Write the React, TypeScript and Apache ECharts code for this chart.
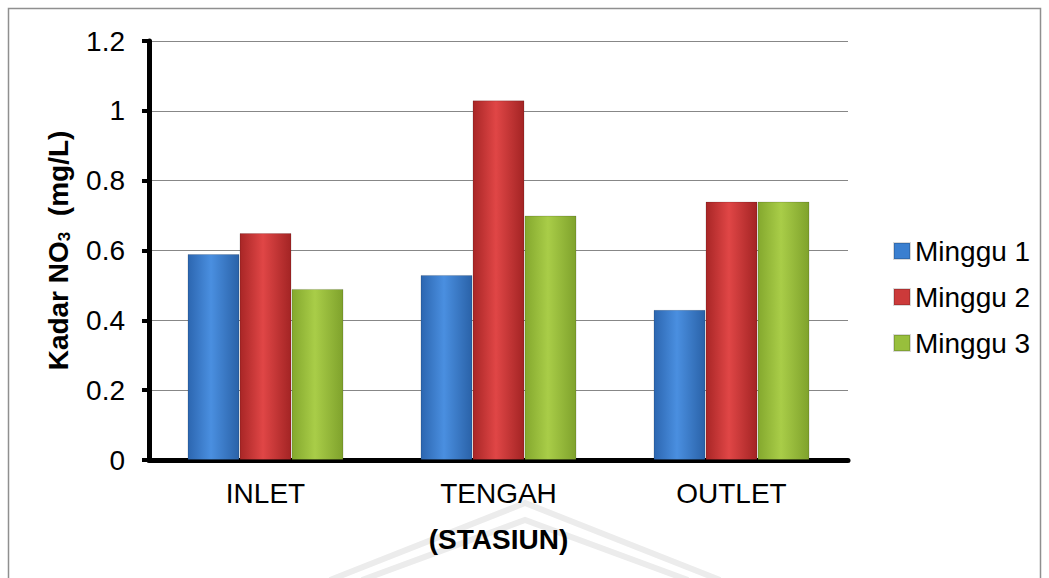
import React, { useEffect, useRef } from "react";
import * as echarts from "echarts";

const categories = ["INLET", "TENGAH", "OUTLET"];
const seriesNames = ["Minggu 1", "Minggu 2", "Minggu 3"];
const minggu1 = [0.59, 0.53, 0.43];
const minggu2 = [0.65, 1.03, 0.74];
const minggu3 = [0.49, 0.7, 0.74];
const yTicks = { min: 0, max: 1.2, interval: 0.2 };

const FONT = "Liberation Sans, Arial, sans-serif";

const grad = (a: string, b: string, c: string) =>
  new echarts.graphic.LinearGradient(0, 0, 1, 0, [
    { offset: 0, color: a },
    { offset: 0.45, color: b },
    { offset: 1, color: c },
  ]);

export default function App() {
  const ref = useRef<HTMLDivElement>(null);
  useEffect(() => {
    document.body.style.margin = "0";
    document.body.style.overflow = "hidden";
    const chart = echarts.init(ref.current!, null, { renderer: "svg" });
    const colors = [
      grad("#2c66b0", "#4a8fe0", "#2a62a8"),
      grad("#a82626", "#e04646", "#a32424"),
      grad("#84a82e", "#a9cd48", "#7fa22c"),
    ];
    const legendColors = ["#3a7fd0", "#cc3a3a", "#98bf3c"];
    const data = [minggu1, minggu2, minggu3];
    chart.setOption({
      animation: false,
      backgroundColor: "#ffffff",
      textStyle: { fontFamily: FONT },
      grid: { left: 149, right: 201, top: 41, bottom: 118, containLabel: false },
      legend: {
        orient: "vertical",
        left: 888,
        top: 232,
        itemWidth: 16,
        itemHeight: 16,
        itemGap: 18,
        itemTextGap: 4,
        icon: "rect",
        textStyle: { fontSize: 28, color: "#000", fontFamily: FONT },
        data: seriesNames.map((n, i) => ({ name: n, itemStyle: { color: legendColors[i] } })),
      },
      xAxis: {
        type: "category",
        data: categories,
        axisLine: { show: true, lineStyle: { color: "#000", width: 5 } },
        axisTick: { show: false },
        axisLabel: { fontSize: 28, color: "#000", margin: 19, fontFamily: FONT },
        name: "(STASIUN)",
        nameLocation: "middle",
        nameGap: 65,
        nameTextStyle: { fontSize: 28, fontWeight: "bold", color: "#000", fontFamily: FONT },
      },
      yAxis: {
        type: "value",
        min: yTicks.min,
        max: yTicks.max,
        interval: yTicks.interval,
        axisLine: { show: true, lineStyle: { color: "#000", width: 5 } },
        axisTick: { show: true, length: 7, lineStyle: { color: "#000", width: 4 } },
        splitLine: { show: true, lineStyle: { color: "#878787", width: 1 } },
        axisLabel: {
          fontSize: 28,
          color: "#000",
          margin: 24,
          fontFamily: FONT,
          formatter: (v: number) => String(parseFloat(v.toFixed(1))),
        },
        name: "{m|Kadar NO}{s|3}{m|  (mg/L)}",
        nameLocation: "middle",
        nameRotate: 90,
        nameGap: 76,
        nameTextStyle: {
          rich: {
            m: { fontSize: 28, lineHeight: 30, fontWeight: "bold", color: "#000", fontFamily: FONT },
            s: { fontSize: 17, lineHeight: 10, fontWeight: "bold", color: "#000", verticalAlign: "bottom", fontFamily: FONT },
          },
        },
      },
      series: data.map((d, i) => ({
        name: seriesNames[i],
        type: "bar",
        data: d,
        barWidth: 52,
        barGap: "0%",
        itemStyle: { color: colors[i], borderColor: "rgba(0,0,0,0.15)", borderWidth: 1 },
      })),
      graphic: [
        {
          type: "rect",
          shape: { x: 8.5, y: 8.5, width: 1032, height: 620 },
          style: { fill: "none", stroke: "#8f8f8f", lineWidth: 1.5 },
          z: -1,
          silent: true,
        },
        {
          type: "polyline",
          shape: { points: [[330, 580], [525, 503], [720, 580]] },
          style: { fill: "none", stroke: "#ececec", lineWidth: 6 },
          z: -2,
          silent: true,
        },
        {
          type: "polyline",
          shape: { points: [[362, 580], [525, 520], [688, 580]] },
          style: { fill: "none", stroke: "#ececec", lineWidth: 6 },
          z: -2,
          silent: true,
        },
      ],
    });
    return () => chart.dispose();
  }, []);
  return <div ref={ref} style={{ width: 1049, height: 578 }} />;
}
